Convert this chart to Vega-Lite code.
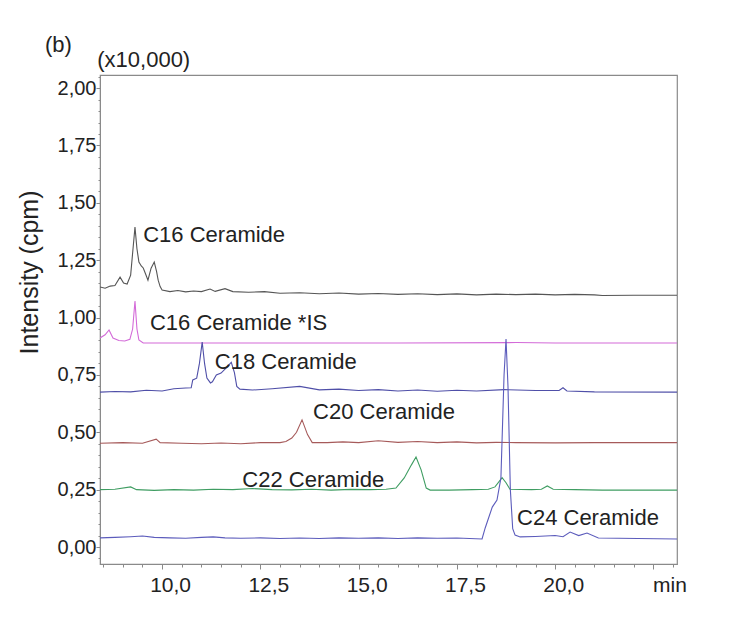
{
  "$schema": "https://vega.github.io/schema/vega-lite/v6.json",
  "autosize": {"type": "none"},
  "padding": {"left": 100, "top": 75, "right": 71, "bottom": 62},
  "width": 577,
  "height": 489,
  "background": "white",
  "config": {
    "font": "Liberation Sans",
    "view": {"stroke": "#8a8a8a", "strokeWidth": 1.2},
    "axis": {"grid": false, "domainColor": "#8a8a8a", "tickColor": "#8a8a8a", "labelColor": "#222222", "titleColor": "#222222"}
  },
  "datasets": {
    "traces": [
      {"s": "C16 Ceramide", "t": 8.42, "v": 1.133}, {"s": "C16 Ceramide", "t": 8.55, "v": 1.128}, {"s": "C16 Ceramide", "t": 8.68, "v": 1.137}, {"s": "C16 Ceramide", "t": 8.8, "v": 1.14}, {"s": "C16 Ceramide", "t": 8.93, "v": 1.176}, {"s": "C16 Ceramide", "t": 9.02, "v": 1.15}, {"s": "C16 Ceramide", "t": 9.11, "v": 1.146}, {"s": "C16 Ceramide", "t": 9.2, "v": 1.185}, {"s": "C16 Ceramide", "t": 9.26, "v": 1.3}, {"s": "C16 Ceramide", "t": 9.31, "v": 1.394}, {"s": "C16 Ceramide", "t": 9.36, "v": 1.3}, {"s": "C16 Ceramide", "t": 9.41, "v": 1.242}, {"s": "C16 Ceramide", "t": 9.47, "v": 1.225}, {"s": "C16 Ceramide", "t": 9.52, "v": 1.216}, {"s": "C16 Ceramide", "t": 9.58, "v": 1.19}, {"s": "C16 Ceramide", "t": 9.64, "v": 1.163}, {"s": "C16 Ceramide", "t": 9.72, "v": 1.215}, {"s": "C16 Ceramide", "t": 9.8, "v": 1.242}, {"s": "C16 Ceramide", "t": 9.86, "v": 1.2}, {"s": "C16 Ceramide", "t": 9.9, "v": 1.163}, {"s": "C16 Ceramide", "t": 9.95, "v": 1.135}, {"s": "C16 Ceramide", "t": 10.0, "v": 1.12}, {"s": "C16 Ceramide", "t": 10.2, "v": 1.113}, {"s": "C16 Ceramide", "t": 10.4, "v": 1.118}, {"s": "C16 Ceramide", "t": 10.6, "v": 1.112}, {"s": "C16 Ceramide", "t": 10.8, "v": 1.116}, {"s": "C16 Ceramide", "t": 11.0, "v": 1.113}, {"s": "C16 Ceramide", "t": 11.22, "v": 1.124}, {"s": "C16 Ceramide", "t": 11.35, "v": 1.114}, {"s": "C16 Ceramide", "t": 11.6, "v": 1.126}, {"s": "C16 Ceramide", "t": 11.8, "v": 1.113}, {"s": "C16 Ceramide", "t": 12.2, "v": 1.11}, {"s": "C16 Ceramide", "t": 12.6, "v": 1.113}, {"s": "C16 Ceramide", "t": 13.0, "v": 1.106}, {"s": "C16 Ceramide", "t": 13.5, "v": 1.108}, {"s": "C16 Ceramide", "t": 14.0, "v": 1.104}, {"s": "C16 Ceramide", "t": 14.5, "v": 1.107}, {"s": "C16 Ceramide", "t": 15.0, "v": 1.102}, {"s": "C16 Ceramide", "t": 15.5, "v": 1.105}, {"s": "C16 Ceramide", "t": 16.0, "v": 1.101}, {"s": "C16 Ceramide", "t": 16.5, "v": 1.104}, {"s": "C16 Ceramide", "t": 17.0, "v": 1.1}, {"s": "C16 Ceramide", "t": 17.5, "v": 1.103}, {"s": "C16 Ceramide", "t": 18.0, "v": 1.099}, {"s": "C16 Ceramide", "t": 18.5, "v": 1.102}, {"s": "C16 Ceramide", "t": 19.0, "v": 1.1}, {"s": "C16 Ceramide", "t": 19.5, "v": 1.102}, {"s": "C16 Ceramide", "t": 20.0, "v": 1.099}, {"s": "C16 Ceramide", "t": 20.5, "v": 1.101}, {"s": "C16 Ceramide", "t": 21.0, "v": 1.099}, {"s": "C16 Ceramide", "t": 21.2, "v": 1.096}, {"s": "C16 Ceramide", "t": 22.0, "v": 1.097}, {"s": "C16 Ceramide", "t": 23.1, "v": 1.097},

      {"s": "C16 Ceramide *IS", "t": 8.42, "v": 0.911}, {"s": "C16 Ceramide *IS", "t": 8.55, "v": 0.925}, {"s": "C16 Ceramide *IS", "t": 8.65, "v": 0.946}, {"s": "C16 Ceramide *IS", "t": 8.75, "v": 0.911}, {"s": "C16 Ceramide *IS", "t": 8.9, "v": 0.9}, {"s": "C16 Ceramide *IS", "t": 9.05, "v": 0.898}, {"s": "C16 Ceramide *IS", "t": 9.18, "v": 0.905}, {"s": "C16 Ceramide *IS", "t": 9.25, "v": 0.95}, {"s": "C16 Ceramide *IS", "t": 9.31, "v": 1.072}, {"s": "C16 Ceramide *IS", "t": 9.36, "v": 0.95}, {"s": "C16 Ceramide *IS", "t": 9.41, "v": 0.902}, {"s": "C16 Ceramide *IS", "t": 9.52, "v": 0.889}, {"s": "C16 Ceramide *IS", "t": 12.0, "v": 0.889}, {"s": "C16 Ceramide *IS", "t": 16.0, "v": 0.889}, {"s": "C16 Ceramide *IS", "t": 19.0, "v": 0.891}, {"s": "C16 Ceramide *IS", "t": 20.0, "v": 0.889}, {"s": "C16 Ceramide *IS", "t": 23.1, "v": 0.889},

      {"s": "C18 Ceramide", "t": 8.42, "v": 0.675}, {"s": "C18 Ceramide", "t": 8.8, "v": 0.678}, {"s": "C18 Ceramide", "t": 9.2, "v": 0.676}, {"s": "C18 Ceramide", "t": 9.6, "v": 0.683}, {"s": "C18 Ceramide", "t": 10.0, "v": 0.68}, {"s": "C18 Ceramide", "t": 10.3, "v": 0.69}, {"s": "C18 Ceramide", "t": 10.6, "v": 0.693}, {"s": "C18 Ceramide", "t": 10.74, "v": 0.694}, {"s": "C18 Ceramide", "t": 10.78, "v": 0.728}, {"s": "C18 Ceramide", "t": 10.88, "v": 0.736}, {"s": "C18 Ceramide", "t": 10.95, "v": 0.8}, {"s": "C18 Ceramide", "t": 11.02, "v": 0.893}, {"s": "C18 Ceramide", "t": 11.08, "v": 0.8}, {"s": "C18 Ceramide", "t": 11.14, "v": 0.736}, {"s": "C18 Ceramide", "t": 11.23, "v": 0.715}, {"s": "C18 Ceramide", "t": 11.28, "v": 0.72}, {"s": "C18 Ceramide", "t": 11.38, "v": 0.75}, {"s": "C18 Ceramide", "t": 11.5, "v": 0.758}, {"s": "C18 Ceramide", "t": 11.6, "v": 0.775}, {"s": "C18 Ceramide", "t": 11.76, "v": 0.805}, {"s": "C18 Ceramide", "t": 11.84, "v": 0.76}, {"s": "C18 Ceramide", "t": 11.9, "v": 0.7}, {"s": "C18 Ceramide", "t": 11.98, "v": 0.688}, {"s": "C18 Ceramide", "t": 12.3, "v": 0.684}, {"s": "C18 Ceramide", "t": 12.8, "v": 0.69}, {"s": "C18 Ceramide", "t": 13.5, "v": 0.7}, {"s": "C18 Ceramide", "t": 14.0, "v": 0.685}, {"s": "C18 Ceramide", "t": 14.5, "v": 0.688}, {"s": "C18 Ceramide", "t": 15.0, "v": 0.682}, {"s": "C18 Ceramide", "t": 15.5, "v": 0.686}, {"s": "C18 Ceramide", "t": 16.0, "v": 0.68}, {"s": "C18 Ceramide", "t": 16.5, "v": 0.684}, {"s": "C18 Ceramide", "t": 17.0, "v": 0.679}, {"s": "C18 Ceramide", "t": 17.5, "v": 0.683}, {"s": "C18 Ceramide", "t": 18.0, "v": 0.68}, {"s": "C18 Ceramide", "t": 18.7, "v": 0.686}, {"s": "C18 Ceramide", "t": 19.5, "v": 0.682}, {"s": "C18 Ceramide", "t": 20.1, "v": 0.682}, {"s": "C18 Ceramide", "t": 20.2, "v": 0.694}, {"s": "C18 Ceramide", "t": 20.3, "v": 0.68}, {"s": "C18 Ceramide", "t": 21.0, "v": 0.676}, {"s": "C18 Ceramide", "t": 23.1, "v": 0.675},

      {"s": "C20 Ceramide", "t": 8.42, "v": 0.452}, {"s": "C20 Ceramide", "t": 9.0, "v": 0.455}, {"s": "C20 Ceramide", "t": 9.5, "v": 0.452}, {"s": "C20 Ceramide", "t": 9.85, "v": 0.47}, {"s": "C20 Ceramide", "t": 9.95, "v": 0.455}, {"s": "C20 Ceramide", "t": 10.5, "v": 0.452}, {"s": "C20 Ceramide", "t": 11.0, "v": 0.45}, {"s": "C20 Ceramide", "t": 11.5, "v": 0.453}, {"s": "C20 Ceramide", "t": 12.0, "v": 0.45}, {"s": "C20 Ceramide", "t": 12.5, "v": 0.455}, {"s": "C20 Ceramide", "t": 13.0, "v": 0.455}, {"s": "C20 Ceramide", "t": 13.15, "v": 0.46}, {"s": "C20 Ceramide", "t": 13.3, "v": 0.475}, {"s": "C20 Ceramide", "t": 13.42, "v": 0.5}, {"s": "C20 Ceramide", "t": 13.56, "v": 0.554}, {"s": "C20 Ceramide", "t": 13.7, "v": 0.49}, {"s": "C20 Ceramide", "t": 13.82, "v": 0.455}, {"s": "C20 Ceramide", "t": 14.2, "v": 0.455}, {"s": "C20 Ceramide", "t": 14.6, "v": 0.458}, {"s": "C20 Ceramide", "t": 15.0, "v": 0.455}, {"s": "C20 Ceramide", "t": 15.5, "v": 0.463}, {"s": "C20 Ceramide", "t": 16.0, "v": 0.456}, {"s": "C20 Ceramide", "t": 16.5, "v": 0.46}, {"s": "C20 Ceramide", "t": 17.0, "v": 0.455}, {"s": "C20 Ceramide", "t": 17.5, "v": 0.458}, {"s": "C20 Ceramide", "t": 18.0, "v": 0.454}, {"s": "C20 Ceramide", "t": 18.5, "v": 0.456}, {"s": "C20 Ceramide", "t": 19.0, "v": 0.455}, {"s": "C20 Ceramide", "t": 20.0, "v": 0.454}, {"s": "C20 Ceramide", "t": 21.0, "v": 0.455}, {"s": "C20 Ceramide", "t": 23.1, "v": 0.455},

      {"s": "C22 Ceramide", "t": 8.42, "v": 0.25}, {"s": "C22 Ceramide", "t": 8.8, "v": 0.252}, {"s": "C22 Ceramide", "t": 9.2, "v": 0.262}, {"s": "C22 Ceramide", "t": 9.35, "v": 0.25}, {"s": "C22 Ceramide", "t": 9.8, "v": 0.247}, {"s": "C22 Ceramide", "t": 10.3, "v": 0.25}, {"s": "C22 Ceramide", "t": 10.8, "v": 0.248}, {"s": "C22 Ceramide", "t": 11.3, "v": 0.252}, {"s": "C22 Ceramide", "t": 11.8, "v": 0.25}, {"s": "C22 Ceramide", "t": 12.3, "v": 0.255}, {"s": "C22 Ceramide", "t": 12.8, "v": 0.25}, {"s": "C22 Ceramide", "t": 13.3, "v": 0.249}, {"s": "C22 Ceramide", "t": 13.8, "v": 0.252}, {"s": "C22 Ceramide", "t": 14.3, "v": 0.248}, {"s": "C22 Ceramide", "t": 14.8, "v": 0.251}, {"s": "C22 Ceramide", "t": 15.3, "v": 0.25}, {"s": "C22 Ceramide", "t": 15.7, "v": 0.252}, {"s": "C22 Ceramide", "t": 15.95, "v": 0.257}, {"s": "C22 Ceramide", "t": 16.16, "v": 0.301}, {"s": "C22 Ceramide", "t": 16.34, "v": 0.357}, {"s": "C22 Ceramide", "t": 16.46, "v": 0.392}, {"s": "C22 Ceramide", "t": 16.59, "v": 0.336}, {"s": "C22 Ceramide", "t": 16.72, "v": 0.257}, {"s": "C22 Ceramide", "t": 16.82, "v": 0.248}, {"s": "C22 Ceramide", "t": 17.3, "v": 0.248}, {"s": "C22 Ceramide", "t": 17.9, "v": 0.25}, {"s": "C22 Ceramide", "t": 18.3, "v": 0.252}, {"s": "C22 Ceramide", "t": 18.47, "v": 0.262}, {"s": "C22 Ceramide", "t": 18.65, "v": 0.302}, {"s": "C22 Ceramide", "t": 18.75, "v": 0.28}, {"s": "C22 Ceramide", "t": 18.85, "v": 0.252}, {"s": "C22 Ceramide", "t": 19.4, "v": 0.25}, {"s": "C22 Ceramide", "t": 19.65, "v": 0.252}, {"s": "C22 Ceramide", "t": 19.8, "v": 0.266}, {"s": "C22 Ceramide", "t": 19.95, "v": 0.252}, {"s": "C22 Ceramide", "t": 20.5, "v": 0.25}, {"s": "C22 Ceramide", "t": 21.2, "v": 0.248}, {"s": "C22 Ceramide", "t": 23.1, "v": 0.248},

      {"s": "C24 Ceramide", "t": 8.42, "v": 0.04}, {"s": "C24 Ceramide", "t": 8.8, "v": 0.042}, {"s": "C24 Ceramide", "t": 9.2, "v": 0.045}, {"s": "C24 Ceramide", "t": 9.5, "v": 0.048}, {"s": "C24 Ceramide", "t": 9.8, "v": 0.042}, {"s": "C24 Ceramide", "t": 10.2, "v": 0.04}, {"s": "C24 Ceramide", "t": 10.6, "v": 0.038}, {"s": "C24 Ceramide", "t": 11.0, "v": 0.042}, {"s": "C24 Ceramide", "t": 11.3, "v": 0.044}, {"s": "C24 Ceramide", "t": 11.6, "v": 0.04}, {"s": "C24 Ceramide", "t": 12.0, "v": 0.038}, {"s": "C24 Ceramide", "t": 12.5, "v": 0.04}, {"s": "C24 Ceramide", "t": 13.0, "v": 0.037}, {"s": "C24 Ceramide", "t": 13.5, "v": 0.039}, {"s": "C24 Ceramide", "t": 14.0, "v": 0.037}, {"s": "C24 Ceramide", "t": 14.5, "v": 0.04}, {"s": "C24 Ceramide", "t": 15.0, "v": 0.038}, {"s": "C24 Ceramide", "t": 15.5, "v": 0.04}, {"s": "C24 Ceramide", "t": 16.0, "v": 0.037}, {"s": "C24 Ceramide", "t": 16.5, "v": 0.04}, {"s": "C24 Ceramide", "t": 17.0, "v": 0.038}, {"s": "C24 Ceramide", "t": 17.5, "v": 0.039}, {"s": "C24 Ceramide", "t": 18.14, "v": 0.035}, {"s": "C24 Ceramide", "t": 18.22, "v": 0.083}, {"s": "C24 Ceramide", "t": 18.4, "v": 0.174}, {"s": "C24 Ceramide", "t": 18.52, "v": 0.205}, {"s": "C24 Ceramide", "t": 18.62, "v": 0.3}, {"s": "C24 Ceramide", "t": 18.7, "v": 0.75}, {"s": "C24 Ceramide", "t": 18.75, "v": 0.906}, {"s": "C24 Ceramide", "t": 18.8, "v": 0.7}, {"s": "C24 Ceramide", "t": 18.86, "v": 0.25}, {"s": "C24 Ceramide", "t": 18.92, "v": 0.08}, {"s": "C24 Ceramide", "t": 18.98, "v": 0.052}, {"s": "C24 Ceramide", "t": 19.11, "v": 0.044}, {"s": "C24 Ceramide", "t": 19.5, "v": 0.046}, {"s": "C24 Ceramide", "t": 20.0, "v": 0.05}, {"s": "C24 Ceramide", "t": 20.2, "v": 0.045}, {"s": "C24 Ceramide", "t": 20.38, "v": 0.065}, {"s": "C24 Ceramide", "t": 20.6, "v": 0.05}, {"s": "C24 Ceramide", "t": 20.81, "v": 0.061}, {"s": "C24 Ceramide", "t": 21.1, "v": 0.039}, {"s": "C24 Ceramide", "t": 23.1, "v": 0.035}
    ],
    "labels": [
      {"label": "C16 Ceramide", "t": 9.52, "v": 1.359},
      {"label": "C16 Ceramide *IS", "t": 9.69, "v": 0.976},
      {"label": "C18 Ceramide", "t": 11.34, "v": 0.806},
      {"label": "C20 Ceramide", "t": 13.84, "v": 0.588},
      {"label": "C22 Ceramide", "t": 12.04, "v": 0.292},
      {"label": "C24 Ceramide", "t": 19.03, "v": 0.126},
      {"label": "(x10,000)", "t": 8.35, "v": 2.122},
      {"label": "(b)", "t": 7.02, "v": 2.187}
    ]
  },
  "layer": [
    {
      "data": {"name": "traces"},
      "mark": {"type": "line", "strokeWidth": 1.1, "clip": true},
      "encoding": {
        "x": {
          "field": "t", "type": "quantitative",
          "scale": {"domain": [8.42, 23.1], "nice": false, "zero": false},
          "axis": {
            "orient": "bottom", "title": null,
            "values": [10, 12.5, 15, 17.5, 20, 22.5],
            "labelExpr": "datum.value == 22.5 ? 'min' : replace(format(datum.value, '.1f'), '.', ',')",
            "labelFontSize": 21, "tickSize": 5, "labelPadding": 5,
            "labelOffset": {"condition": {"test": "datum.value == 22.5", "value": 16}, "value": 8}
          }
        },
        "y": {
          "field": "v", "type": "quantitative",
          "scale": {"domain": [-0.074, 2.057], "nice": false, "zero": false},
          "axis": {
            "orient": "left",
            "values": [0, 0.25, 0.5, 0.75, 1, 1.25, 1.5, 1.75, 2],
            "labelExpr": "replace(format(datum.value, '.2f'), '.', ',')",
            "labelFontSize": 20, "tickSize": 4, "labelPadding": 0,
            "title": "Intensity (cpm)", "titleFontSize": 25, "titleFontWeight": "normal",
            "titleX": -71, "titleY": 197, "titleAngle": -90, "titleAlign": "center", "titleBaseline": "middle"
          }
        },
        "color": {
          "field": "s", "type": "nominal",
          "scale": {
            "domain": ["C16 Ceramide", "C16 Ceramide *IS", "C18 Ceramide", "C20 Ceramide", "C22 Ceramide", "C24 Ceramide"],
            "range": ["#555555", "#d36ad8", "#4f4fa8", "#a65a5a", "#3f9d62", "#5c5cbc"]
          },
          "legend": null
        }
      }
    },
    {
      "data": {"name": "labels"},
      "mark": {"type": "text", "align": "left", "baseline": "middle", "fontSize": 22, "color": "#222222", "clip": false},
      "encoding": {
        "x": {
          "field": "t", "type": "quantitative",
          "axis": {
            "orient": "bottom", "title": null, "labels": false, "domain": false, "grid": false,
            "values": [8.5, 9, 9.5, 10.5, 11, 11.5, 12, 13, 13.5, 14, 14.5, 15.5, 16, 16.5, 17, 18, 18.5, 19, 19.5, 20.5, 21, 21.5, 22, 23],
            "tickSize": 3
          }
        },
        "y": {
          "field": "v", "type": "quantitative",
          "axis": {
            "orient": "left", "title": null, "labels": false, "domain": false, "grid": false,
            "values": [-0.05, 0.05, 0.1, 0.15, 0.2, 0.3, 0.35, 0.4, 0.45, 0.55, 0.6, 0.65, 0.7, 0.8, 0.85, 0.9, 0.95, 1.05, 1.1, 1.15, 1.2, 1.3, 1.35, 1.4, 1.45, 1.55, 1.6, 1.65, 1.7, 1.8, 1.85, 1.9, 1.95, 2.05],
            "tickSize": 2
          }
        },
        "text": {"field": "label", "type": "nominal"}
      }
    }
  ],
  "resolve": {"axis": {"x": "independent", "y": "independent"}}
}
